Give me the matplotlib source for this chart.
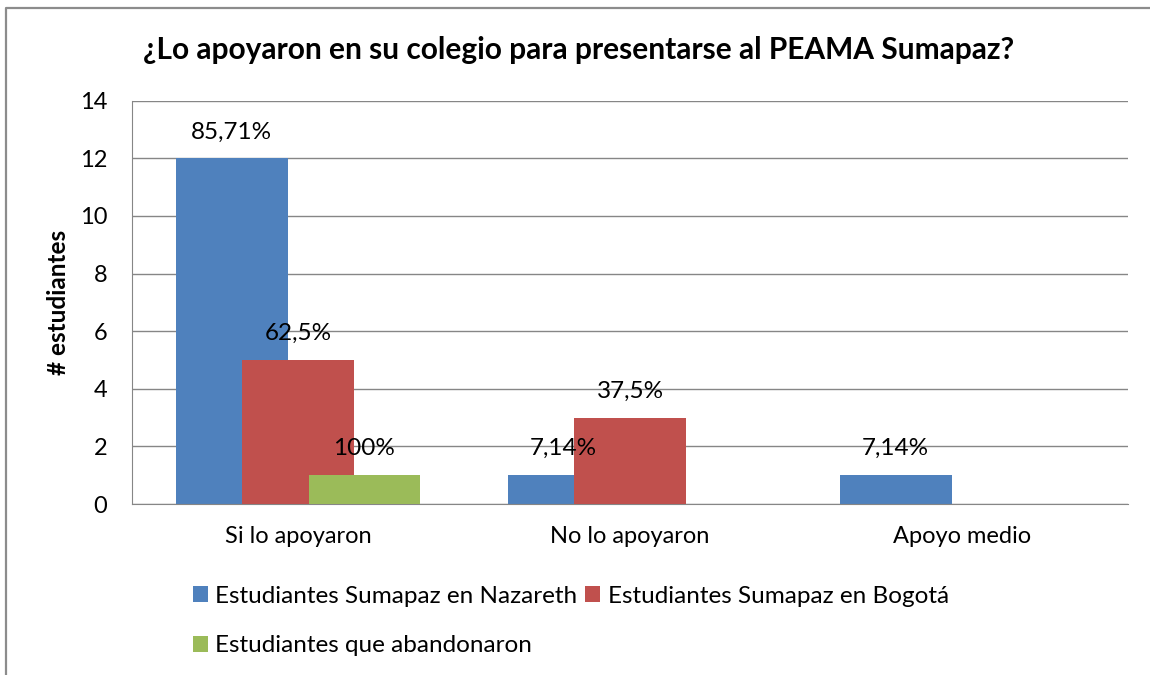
import matplotlib.pyplot as plt
import numpy as np
from matplotlib.lines import Line2D

# Datos
categorias = ["Si lo apoyaron", "No lo apoyaron", "Apoyo medio"]
series = ["Estudiantes Sumapaz en Nazareth", "Estudiantes Sumapaz en Bogotá", "Estudiantes que abandonaron"]
nazareth = [12, 1, 1]
bogota = [5, 3, 0]
abandonaron = [1, 0, 0]
etq_nazareth = ["85,71%", "7,14%", "7,14%"]
etq_bogota = ["62,5%", "37,5%", None]
etq_abandonaron = ["100%", None, None]

colores = ["#4F81BD", "#C0504D", "#9BBB59"]

plt.rcParams['font.family'] = ['Lato', 'DejaVu Sans']

fig = plt.figure(figsize=(11.5, 6.75), dpi=100)
ax = fig.add_axes([0.1148, 0.2533, 0.8662, 0.5975])

# Marco exterior del grafico (solo se ve arriba y a la izquierda)
x0, y0 = 5.5 / 1150, 1 - 7.5 / 675
fig.lines.append(Line2D([x0, x0, 1.0], [0, y0, y0], transform=fig.transFigure,
                        color="#8C8C8C", linewidth=1.6))

x = np.arange(len(categorias))
ancho = 0.337
desp = 0.2
valores = [nazareth, bogota, abandonaron]
etiquetas = [etq_nazareth, etq_bogota, etq_abandonaron]

barras = []
for i, (vals, etqs) in enumerate(zip(valores, etiquetas)):
    pos = x + (i - 1) * desp
    b = ax.bar(pos, vals, width=ancho, color=colores[i], label=series[i], zorder=2 + i)
    barras.append(b)
    for p, v, t in zip(pos, vals, etqs):
        if t is not None:
            ax.annotate(t, (p, v), xytext=(0, 19), textcoords="offset points",
                        ha="center", va="center", fontsize=17.5, zorder=10)

ax.set_xlim(-0.5, 2.5)
ax.set_ylim(0, 14)
ax.set_yticks(range(0, 15, 2))
ax.set_xticks(x)
ax.set_xticklabels(categorias)
ax.tick_params(axis="both", length=0)
ax.tick_params(axis="x", pad=16, labelsize=17)
ax.tick_params(axis="y", pad=18, labelsize=17)
ax.yaxis.grid(True, color="#868686", linewidth=1, zorder=0)
ax.set_axisbelow(True)
for s in ["top", "right"]:
    ax.spines[s].set_visible(False)
ax.spines["left"].set_color("#868686")
ax.spines["bottom"].set_color("#868686")

ax.set_ylabel("# estudiantes", fontsize=17.5, fontweight="bold", labelpad=7)

fig.text(0.503, 0.926, "¿Lo apoyaron en su colegio para presentarse al PEAMA Sumapaz?",
         ha="center", va="center", fontsize=21.5, fontweight="bold")

# Leyenda en dos filas (orden para que quede por filas)
h = [barras[0], barras[2], barras[1]]
l = [series[0], series[2], series[1]]
fig.legend(h, l, ncol=2, loc="upper left", bbox_to_anchor=(0.1574, 0.150),
           frameon=False, fontsize=17.5, handlelength=0.62, handleheight=0.62,
           handletextpad=0.29, columnspacing=0.33, labelspacing=1.17, borderpad=0)

plt.savefig("out.png", dpi=100)
